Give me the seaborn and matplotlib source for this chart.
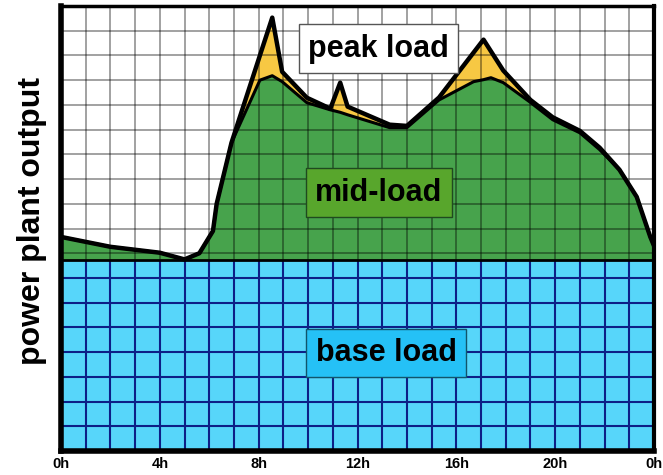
import matplotlib
matplotlib.use("Agg")
import matplotlib.pyplot as plt
import seaborn as sns

# Lastkurve über den Tag (Stunden, Rastereinheiten)
hours = [0, 2, 4, 5, 5.6, 6.15, 6.3, 6.9, 8.05, 8.55, 8.95, 9.95, 10.9, 11.3, 11.6,
         13.3, 14.0, 15.3, 16.7, 17.1, 17.4, 17.9, 19.0, 19.9, 21.0, 21.8, 22.6,
         23.3, 23.85, 24]
mid_load = [8.66, 8.26, 8.02, 7.75, 8.0, 8.9, 10.0, 12.47, 15.0, 15.18, 14.94,
            14.09, 13.8, 13.7, 13.6, 13.08, 13.08, 14.2, 14.94, 15.02, 15.1, 14.9,
            14.1, 13.4, 12.87, 12.19, 11.38, 10.28, 8.66, 8.3]
peak_load = [8.66, 8.26, 8.02, 7.75, 8.0, 8.9, 10.0, 12.47, 16.0, 17.53, 15.34,
             14.29, 13.85, 14.9, 13.93, 13.2, 13.15, 14.3, 16.12, 16.64, 16.17,
             15.39, 14.2, 13.5, 12.95, 12.27, 11.38, 10.28, 8.66, 8.3]
base_level = 7.73

tick_hours = list(range(25))
tick_labels = ["0h", "4h", "8h", "12h", "16h", "20h", "0h"]

sns.set_style("white")
plt.rcParams["font.family"] = ["Liberation Sans", "DejaVu Sans"]
plt.rcParams["text.color"] = "black"
plt.rcParams["xtick.color"] = "black"

fig = plt.figure(figsize=(6.63, 4.75), dpi=100)
ax = fig.add_axes([61 / 663, 24 / 475, 593 / 663, 445 / 475])

# Flächen
ax.fill_between([0, 24], 0, base_level, color="#57d6fa", lw=0, zorder=1)
ax.fill_between(hours, base_level, mid_load, color="#47a34c", lw=0, zorder=1)
ax.fill_between(hours, mid_load, peak_load, color="#f7c843", lw=0, zorder=1)

# Raster
ax.set_xticks(tick_hours)
ax.set_xticklabels([tick_labels[h // 4] if h % 4 == 0 else "" for h in tick_hours],
                   fontsize=10.5, fontweight="bold", color="black")
ax.set_yticks(range(19))
ax.set_yticklabels([])
ax.tick_params(length=0, pad=4)
ax.set_axisbelow(False)
ax.grid(True, color="black", alpha=0.4, lw=1.3)
ax.vlines(range(1, 24), 0, base_level, color="#0d1f86", lw=1.5, zorder=2.6)
ax.hlines(range(1, 8), 0, 24, color="#0d1f86", lw=1.5, zorder=2.6)

# Umrisse
ax.axhline(base_level, color="black", lw=2, zorder=3)
sns.lineplot(x=hours, y=mid_load, color="black", lw=2.2, sort=False, ax=ax, zorder=3)
sns.lineplot(x=hours, y=peak_load, color="black", lw=3.2, sort=False, ax=ax, zorder=4)

ax.set_xlim(0, 24)
ax.set_ylim(0, 18)

for side, w in {"left": 4, "bottom": 4, "top": 2.5, "right": 3}.items():
    ax.spines[side].set_visible(True)
    ax.spines[side].set_color("black")
    ax.spines[side].set_linewidth(w)
    ax.spines[side].set_zorder(6)

# Beschriftungen
box = dict(boxstyle="square,pad=0.3", lw=1)
ax.text(12.85, 16.28, "peak load", fontsize=22, fontweight="bold", ha="center",
        va="center", color="black", zorder=7, bbox=dict(box, fc="white", ec="#555555"))
ax.text(12.87, 10.45, "mid-load", fontsize=22, fontweight="bold", ha="center",
        va="center", color="black", zorder=7, bbox=dict(box, fc="#58a62c", ec="#1f4a1f"))
ax.text(13.16, 3.97, "base load", fontsize=22, fontweight="bold", ha="center",
        va="center", color="black", zorder=7, bbox=dict(box, fc="#25c1f6", ec="#11556b"))

fig.text(32 / 663, 1 - 221 / 475, "power plant output", rotation=90, fontsize=23,
         fontweight="bold", ha="center", va="center", color="black")

fig.savefig("out.png", dpi=100)
